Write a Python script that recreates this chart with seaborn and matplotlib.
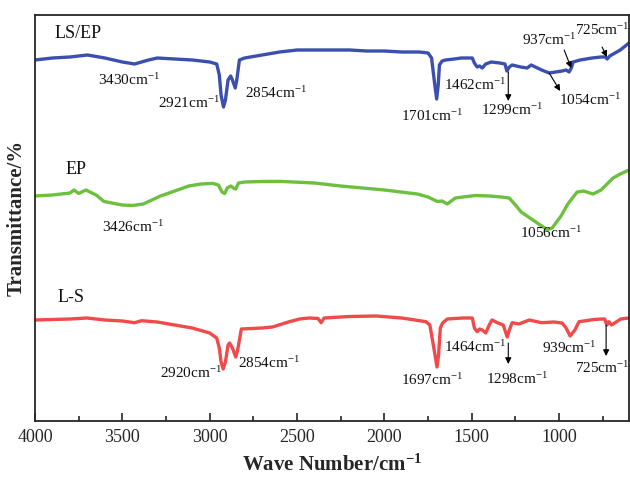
import numpy as np
import pandas as pd
import matplotlib
matplotlib.use("Agg")
import matplotlib.pyplot as plt
import seaborn as sns

# -----------------------------------
# DATA (wavenumber / cm-1, transmittance in arbitrary offset units)
# -----------------------------------

lsep_wn = [4000, 3900, 3800, 3700, 3600, 3500, 3430, 3350, 3300, 3200, 3100, 3000,
           2960, 2945, 2935, 2921, 2910, 2895, 2880, 2870, 2854, 2845, 2830, 2800,
           2700, 2600, 2500, 2400, 2300, 2200, 2100, 2000, 1900, 1800, 1750, 1730,
           1715, 1701, 1692, 1685, 1670, 1650, 1600, 1560, 1497, 1485, 1469, 1455,
           1440, 1420, 1389, 1340, 1310, 1299, 1285, 1269, 1220, 1183, 1160, 1100,
           1057, 1020, 983, 960, 943, 930, 920, 880, 811, 760, 735, 725, 710, 700,
           650, 600]
lsep_py = [60, 58, 57, 55, 58, 62, 64, 60, 58, 59, 60, 62,
           64, 75, 95, 107, 100, 80, 76, 80, 88, 80, 60, 58,
           55, 52, 50, 50, 50, 50, 51, 51, 52, 52, 53, 58,
           80, 99, 85, 65, 61, 60, 59, 58, 58, 63, 67, 66,
           68, 64, 62, 63, 64, 71, 67, 65, 67, 68, 65, 70,
           73, 72, 71, 70, 72, 68, 62, 60, 58, 57, 57, 59, 56, 55,
           50, 43]

ep_wn = [4000, 3900, 3800, 3777, 3750, 3709, 3650, 3605, 3500, 3443, 3380, 3282,
         3200, 3120, 3050, 2983, 2950, 2930, 2914, 2900, 2880, 2865, 2851, 2835,
         2800, 2700, 2594, 2400, 2251, 2000, 1811, 1750, 1697, 1670, 1640, 1594,
         1550, 1480, 1400, 1330, 1286, 1250, 1217, 1150, 1100, 1069, 1040, 989,
         950, 897, 860, 806, 760, 691, 650, 600]
ep_py = [196, 195, 193, 190, 193.5, 190, 195, 201.5, 205, 205.5, 204, 196,
         191, 186, 184, 183.4, 185, 192, 193.5, 188, 186, 188, 189, 183,
         182, 181.5, 181.4, 183, 186, 190, 194, 197, 201.5, 201, 204, 198,
         197, 195.5, 196, 197, 198, 205, 212, 220, 226, 229.6, 228, 216,
         204, 192, 191, 194, 190, 178, 174, 170]

ls_wn = [4000, 3900, 3800, 3703, 3600, 3500, 3430, 3390, 3300, 3200, 3100, 3000,
         2960, 2945, 2935, 2923, 2910, 2895, 2886, 2870, 2851, 2840, 2819, 2700,
         2640, 2550, 2486, 2430, 2380, 2362, 2345, 2200, 2047, 1900, 1762, 1740,
         1720, 1699, 1690, 1680, 1667, 1640, 1550, 1497, 1485, 1469, 1455, 1440,
         1420, 1400, 1384, 1350, 1320, 1297, 1285, 1269, 1230, 1171, 1100, 1030,
         983, 960, 937, 910, 886, 800, 754, 740, 726, 715, 700, 647, 600]
ls_py = [320, 319.5, 319, 318, 320, 321, 322.7, 320.7, 322, 325, 328, 333,
         338, 348, 362, 369, 362, 345, 343, 348, 357, 350, 329, 328,
         327, 322, 319, 318, 318.5, 322.7, 318, 316.5, 316, 318, 321.7, 325,
         345, 367, 355, 328, 323, 319, 318, 318, 328, 331.7, 329, 330,
         333, 325, 320, 323, 325, 337, 330, 322.7, 324, 320, 322.7, 322,
         323, 328, 336, 330, 321.7, 319.5, 319, 319, 325, 321.7, 325, 319, 318]

# picture rows -> transmittance-like units (bottom of frame = 0)
BASE = 421
lsep_t = [BASE - v for v in lsep_py]
ep_t = [BASE - v for v in ep_py]
ls_t = [BASE - v for v in ls_py]

SUP = r"cm$^{-1}$"

labels = [
    ("LS/EP", 3886, 388, 13),
    ("3430" + SUP, 3640, 341, 11),
    ("2921" + SUP, 3297, 318, 11),
    ("2854" + SUP, 2800, 328, 11),
    ("1701" + SUP, 1903, 305, 11),
    ("1462" + SUP, 1657, 336, 11),
    ("1299" + SUP, 1446, 311, 11),
    ("1054" + SUP, 1000, 321, 11),
    ("937" + SUP, 1211, 381, 11),
    ("725" + SUP, 910, 391, 11),
    ("EP", 3823, 251, 13),
    ("3426" + SUP, 3617, 194, 11),
    ("1056" + SUP, 1223, 188, 11),
    ("L-S", 3869, 123, 13),
    ("2920" + SUP, 3286, 48, 11),
    ("2854" + SUP, 2840, 58, 11),
    ("1697" + SUP, 1903, 41, 11),
    ("1464" + SUP, 1657, 74, 11),
    ("1298" + SUP, 1417, 42, 11),
    ("939" + SUP, 1097, 73, 11),
    ("725" + SUP, 910, 53, 11),
]

# arrows: (from_wn, from_t, to_wn, to_t)
arrows = [
    (1291, 349, 1291, 320),
    (1057, 348, 994, 330),
    (971, 371, 931, 353),
    (754, 374, 726, 364),
    (1291, 78, 1291, 57),
    (731, 96, 731, 65),
]

# -----------------------------------
# PLOT
# -----------------------------------

sns.set_style("ticks")
plt.rcParams["font.family"] = ["Liberation Serif", "DejaVu Serif"]
plt.rcParams["mathtext.default"] = "regular"

fig = plt.figure(figsize=(6.3, 4.78), dpi=100)
ax = fig.add_axes([35 / 630, 1 - 421 / 478, 594 / 630, 406 / 478])

sns.lineplot(x=lsep_wn, y=lsep_t, ax=ax, color="#3a4fae", linewidth=2.4)
sns.lineplot(x=ep_wn, y=ep_t, ax=ax, color="#6cc03e", linewidth=2.4)
sns.lineplot(x=ls_wn, y=ls_t, ax=ax, color="#f04a4a", linewidth=2.4)

for txt, x, y, fs in labels:
    ax.text(x, y, txt, fontsize=fs, ha="left", va="center", color="#111111")

for x0, y0, x1, y1 in arrows:
    ax.annotate("", xy=(x1, y1), xytext=(x0, y0),
                arrowprops=dict(arrowstyle="-|>", color="black", lw=0.8,
                                mutation_scale=9, shrinkA=0, shrinkB=0))

ax.set_xlim(4000, 600)
ax.set_ylim(0, 406)
ax.set_xticks([4000, 3500, 3000, 2500, 2000, 1500, 1000])
ax.set_xticks(np.arange(3750, 600, -500), minor=True)
ax.set_yticks([])
ax.tick_params(axis="x", which="major", direction="in", length=6, width=1.2,
               labelsize=13, pad=6)
ax.tick_params(axis="x", which="minor", direction="in", length=3.5, width=1.2)
for s in ax.spines.values():
    s.set_linewidth(1.3)

ax.set_xlabel(r"Wave Number/cm$^{-1}$", fontsize=15, fontweight="bold", labelpad=6)
ax.set_ylabel("Transmittance/%", fontsize=15, fontweight="bold", labelpad=6)

fig.savefig("out.png", dpi=100)
